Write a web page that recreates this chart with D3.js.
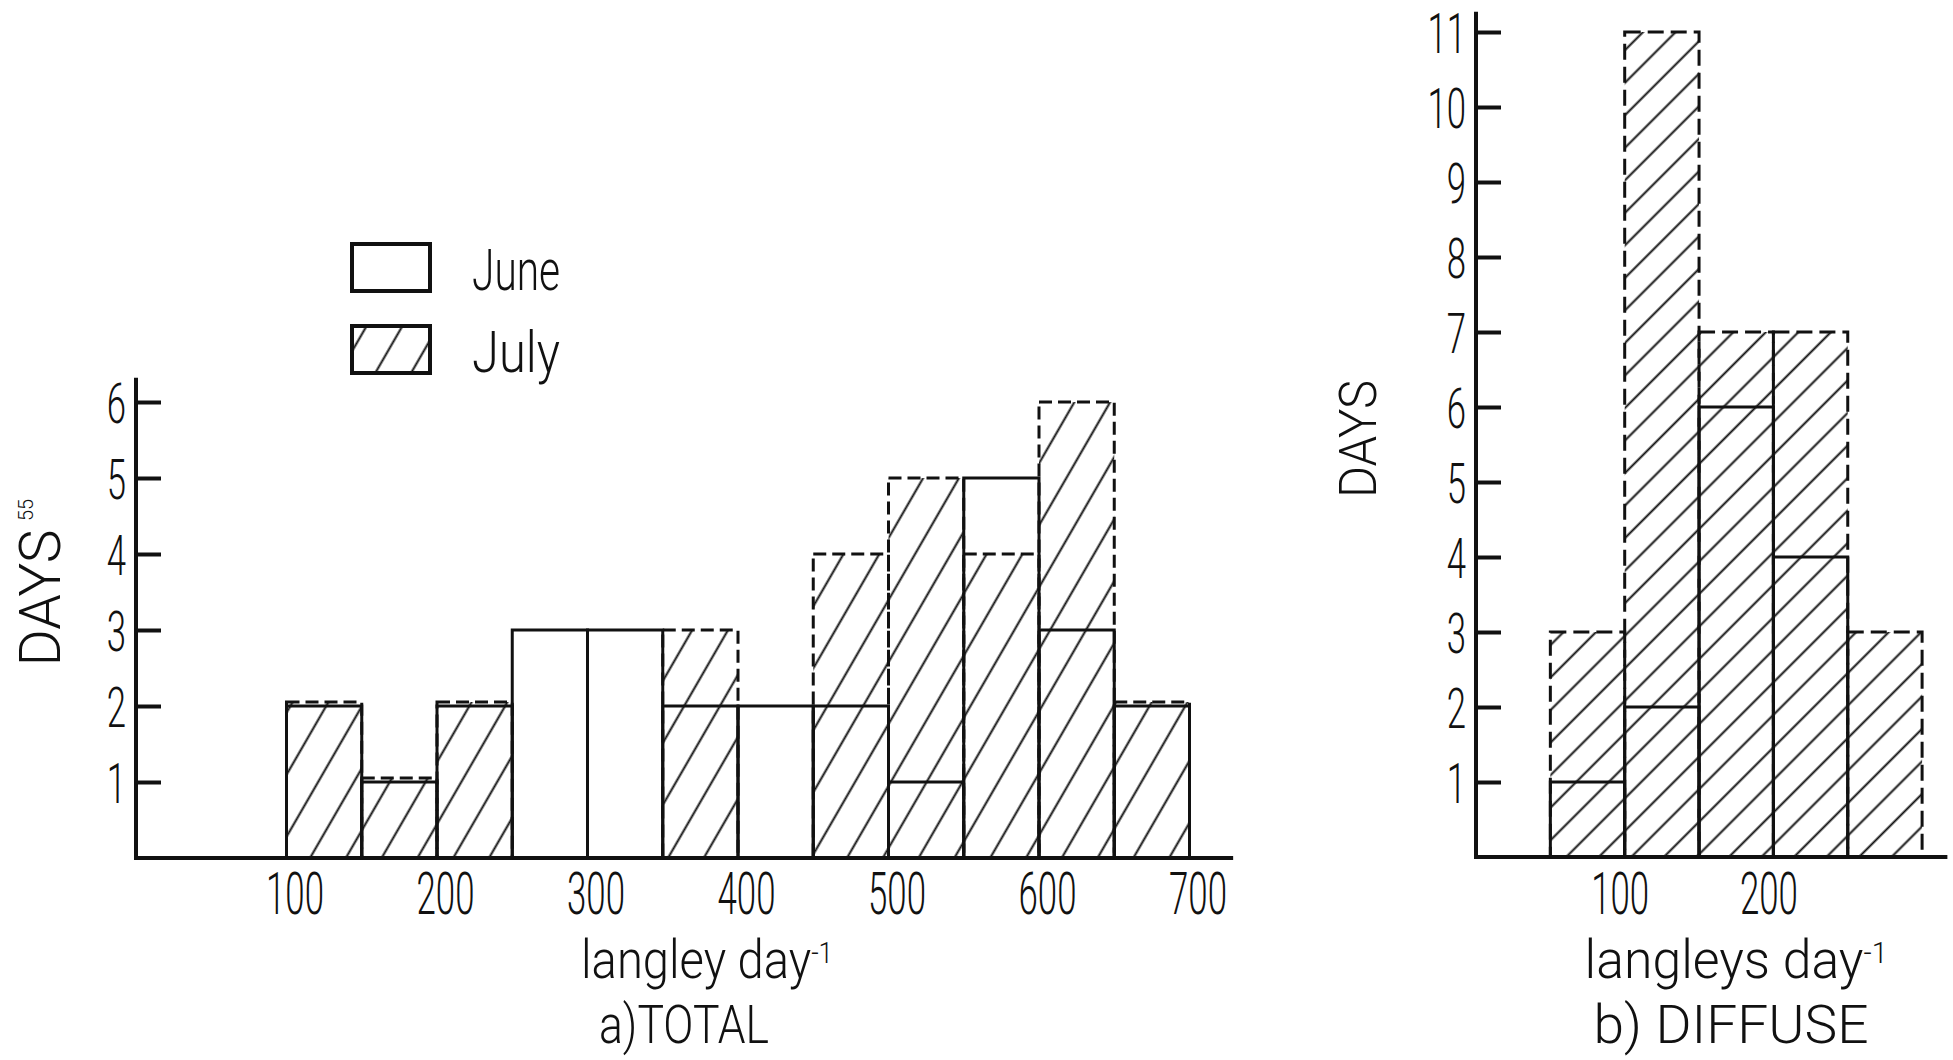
<!DOCTYPE html>
<html>
<head>
<meta charset="utf-8">
<script src="https://cdn.jsdelivr.net/npm/d3@7"></script>
<style>
  html, body { margin: 0; padding: 0; background: #fff; }
  svg { display: block; }
</style>
</head>
<body>
<svg id="chart" width="1953" height="1060"></svg>
<script>
// ---------- DATA ----------
// a) TOTAL: bins of 50 langley day^-1 (bin start values)
const totalBinStart = [100, 150, 200, 250, 300, 350, 400, 450, 500, 550, 600, 650];
const totalJune     = [2, 1, 2, 3, 3, 2, 2, 2, 1, 5, 3, 2];
const totalJuly     = [2, 1, 2, 0, 0, 3, 0, 4, 5, 4, 6, 2];
const totalTicksX   = [100, 200, 300, 400, 500, 600, 700];
const totalTicksY   = [1, 2, 3, 4, 5, 6];

// b) DIFFUSE
const diffuseBinStart = [50, 100, 150, 200, 250];
const diffuseJune     = [1, 2, 6, 4, 0];
const diffuseJuly     = [3, 11, 7, 7, 3];
const diffuseTicksX   = [100, 200];
const diffuseTicksY   = [1, 2, 3, 4, 5, 6, 7, 8, 9, 10, 11];

const binWidth = 50;
const legendLabels = ["June", "July"];

// ---------- SETUP ----------
const FONT = "Roboto, 'Liberation Sans', Arial, sans-serif";
const WEIGHT = 300;
const svg = d3.select("#chart");
svg.append("rect").attr("width", 1953).attr("height", 1060).attr("fill", "#fff");

const defs = svg.append("defs");
function hatch(id, angle, spacing) {
  const p = defs.append("pattern")
    .attr("id", id)
    .attr("patternUnits", "userSpaceOnUse")
    .attr("width", spacing).attr("height", 200)
    .attr("patternTransform", `rotate(${angle})`);
  p.append("line")
    .attr("x1", spacing / 2).attr("x2", spacing / 2)
    .attr("y1", 0).attr("y2", 200)
    .attr("stroke", "#111").attr("stroke-width", 2);
}
hatch("hatchL", 30, 31);
hatch("hatchR", 45, 23);

function fitText(parent, main, sup, cx, cy, width, size, rot) {
  const g = parent.append("g");
  const t = g.append("text")
    .attr("font-family", FONT).attr("font-weight", WEIGHT).attr("font-size", size)
    .attr("fill", "#111").attr("text-anchor", "middle");
  t.append("tspan").text(main);
  if (sup) {
    t.append("tspan").attr("dy", "-0.5em").attr("font-size", size * 0.55).text(sup);
  }
  const w = t.node().getBBox().width;
  const sx = width / w;
  g.attr("transform", `translate(${cx},${cy}) rotate(${rot || 0}) scale(${sx},1)`);
  return g;
}

function panel(opts) {
  const { x, y, bins, june, july, ticksX, ticksY, hatchId, dash,
          axisTop, baseEnd, xLabelDx, xLabelDy } = opts;
  const g = svg.append("g");

  // July: hatched, dashed outline
  g.selectAll("rect.july").data(bins.map((b, i) => ({ b, v: july[i], j: june[i] })).filter(d => d.v > 0))
    .join("rect").attr("class", "july")
    .attr("x", d => x(d.b))
    .attr("width", d => x(d.b + binWidth) - x(d.b))
    .attr("y", d => y(d.v) - (d.v === d.j ? 4 : 0))
    .attr("height", d => y(0) - y(d.v) + (d.v === d.j ? 4 : 0))
    .attr("fill", `url(#${hatchId})`)
    .attr("stroke", "#111").attr("stroke-width", 3)
    .attr("stroke-dasharray", dash);

  // June: solid outline
  g.selectAll("rect.june").data(bins.map((b, i) => ({ b, v: june[i] })).filter(d => d.v > 0))
    .join("rect").attr("class", "june")
    .attr("x", d => x(d.b))
    .attr("width", d => x(d.b + binWidth) - x(d.b))
    .attr("y", d => y(d.v))
    .attr("height", d => y(0) - y(d.v))
    .attr("fill", "none")
    .attr("stroke", "#111").attr("stroke-width", 3);

  // Y axis (ticks inward, labels left)
  const ya = g.append("g").attr("transform", `translate(${x(0)},0)`)
    .call(d3.axisLeft(y).tickValues(ticksY).tickSize(-25).tickPadding(10).tickFormat(d3.format("d")));
  ya.select(".domain").remove();
  ya.selectAll(".tick line").attr("stroke", "#111").attr("stroke-width", 4);
  ya.selectAll(".tick text")
    .attr("x", null).attr("dy", "0.36em")
    .attr("font-family", FONT).attr("font-weight", WEIGHT).attr("font-size", 56).attr("fill", "#111")
    .attr("text-anchor", "end")
    .attr("transform", "translate(-10,0) scale(0.62,1)");
  g.append("line")
    .attr("x1", x(0)).attr("x2", x(0))
    .attr("y1", y(0) + 2).attr("y2", y(axisTop))
    .attr("stroke", "#111").attr("stroke-width", 4);

  // X axis (baseline, labels only)
  const xa = g.append("g").attr("transform", `translate(0,${y(0)})`)
    .call(d3.axisBottom(x).tickValues(ticksX).tickSize(0).tickFormat(d3.format("d")));
  xa.select(".domain").remove();
  xa.selectAll(".tick text")
    .attr("y", null).attr("dy", null)
    .attr("font-family", FONT).attr("font-weight", WEIGHT).attr("font-size", 60).attr("fill", "#111")
    .attr("text-anchor", "middle")
    .attr("transform", `translate(${xLabelDx},${xLabelDy}) scale(0.58,1)`);
  g.append("line")
    .attr("x1", x(0) - 2).attr("x2", x(baseEnd))
    .attr("y1", y(0)).attr("y2", y(0))
    .attr("stroke", "#111").attr("stroke-width", 4);
  return g;
}

// ---------- a) TOTAL ----------
const xL = d3.scaleLinear().domain([0, 700]).range([136, 136 + 700 * 1.505]);
const yL = d3.scaleLinear().domain([0, 6]).range([858, 858 - 6 * 76]);
panel({ x: xL, y: yL, bins: totalBinStart, june: totalJune, july: totalJuly,
        ticksX: totalTicksX, ticksY: totalTicksY, hatchId: "hatchL", dash: "13,6",
        axisTop: 6.32, baseEnd: 729, xLabelDx: 8, xLabelDy: 56 });

// ---------- b) DIFFUSE ----------
const xR = d3.scaleLinear().domain([0, 300]).range([1476, 1476 + 300 * 1.487]);
const yR = d3.scaleLinear().domain([0, 11]).range([857, 857 - 11 * 75]);
panel({ x: xR, y: yR, bins: diffuseBinStart, june: diffuseJune, july: diffuseJuly,
        ticksX: diffuseTicksX, ticksY: diffuseTicksY, hatchId: "hatchR", dash: "16,7",
        axisTop: 11.27, baseEnd: 317, xLabelDx: -5, xLabelDy: 57 });

// ---------- Legend ----------
const lg = svg.append("g");
const legendY = [244, 326];
lg.selectAll("rect").data(legendLabels).join("rect")
  .attr("x", 352).attr("y", (d, i) => legendY[i])
  .attr("width", 78).attr("height", 47)
  .attr("fill", (d, i) => i === 0 ? "#fff" : "url(#hatchL)")
  .attr("stroke", "#111").attr("stroke-width", 4);
legendLabels.forEach((d, i) => {
  fitText(lg, d, null, 472 + 44, legendY[i] + 46, 88, 58, 0);
});

// ---------- Axis titles ----------
fitText(svg, "DAYS", null, 60, 598, 137, 58, -90);
fitText(svg, "55", null, 33, 510, 22, 20, -90);
fitText(svg, "DAYS", null, 1376, 439, 118, 52, -90);

fitText(svg, "langley day", "-1", 707, 978, 252, 54, 0);
fitText(svg, "a)TOTAL", null, 684, 1043, 170, 54, 0);
fitText(svg, "langleys day", "-1", 1736, 978, 303, 54, 0);
fitText(svg, "b) DIFFUSE", null, 1731, 1043, 275, 54, 0);
</script>
</body>
</html>
